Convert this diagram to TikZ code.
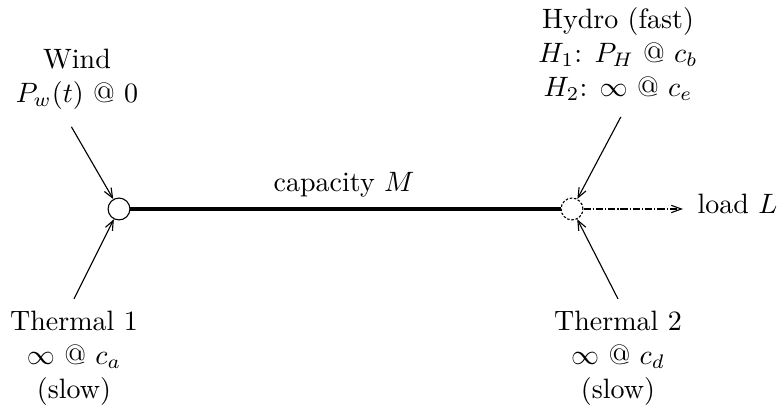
\documentclass[tikz,border=0pt]{standalone}
\usetikzlibrary{arrows.meta}
\begin{document}
\begin{tikzpicture}[x=0.357pt,y=-0.357pt,
  lbl/.style={align=center,inner sep=0pt},
  bus/.style={circle,draw,minimum size=7.8pt,inner sep=0pt,line width=0.4pt},
  feed/.style={line width=0.4pt,-{Straight Barb[length=3.4pt,width=2.8pt]}},
  tieline/.style={line width=1.7pt},
  loadline/.style={line width=0.4pt,dash pattern=on 2.6pt off 0.7pt on 0.4pt off 0.7pt,-{Straight Barb[length=3.6pt,width=2.6pt]}}]
\useasboundingbox (0,0) rectangle (778,416);
% buses
\node[bus] (c1) at (119,209) {};
\node[bus,dash pattern=on 0.9pt off 0.6pt] (c2) at (572,209) {};
% tie line
\draw[tieline] (c1) -- (c2);
\node[anchor=base,inner sep=0pt] (cap) at (344,192) {capacity $M$};
% labels
\node[lbl,anchor=south] (wind) at (77,110) {Wind\\$P_w(t)$ @ $0$};
\node[lbl,anchor=south] (hydro) at (618,101) {Hydro (fast)\\$H_1$: $P_H$ @ $c_b$\\$H_2$: $\infty$ @ $c_e$};
\node[lbl,anchor=north] (th1) at (74,311) {Thermal 1\\$\infty$ @ $c_a$\\(slow)};
\node[lbl,anchor=north] (th2) at (618,311) {Thermal 2\\$\infty$ @ $c_d$\\(slow)};
\node[anchor=base west,inner sep=0pt] (load) at (697,214) {load $L$};
% connectors
\draw[feed] ([xshift=-2pt,yshift=-6pt]wind.south) -- (c1);
\draw[feed] ([xshift=1pt,yshift=-5.7pt]hydro.south) -- (c2);
\draw[feed] ([yshift=4.3pt]th1.north) -- (c1);
\draw[feed] ([yshift=4.3pt]th2.north) -- (c2);
\draw[loadline] (c2) -- ([xshift=-5pt]c2 -| load.west);
\end{tikzpicture}
\end{document}
